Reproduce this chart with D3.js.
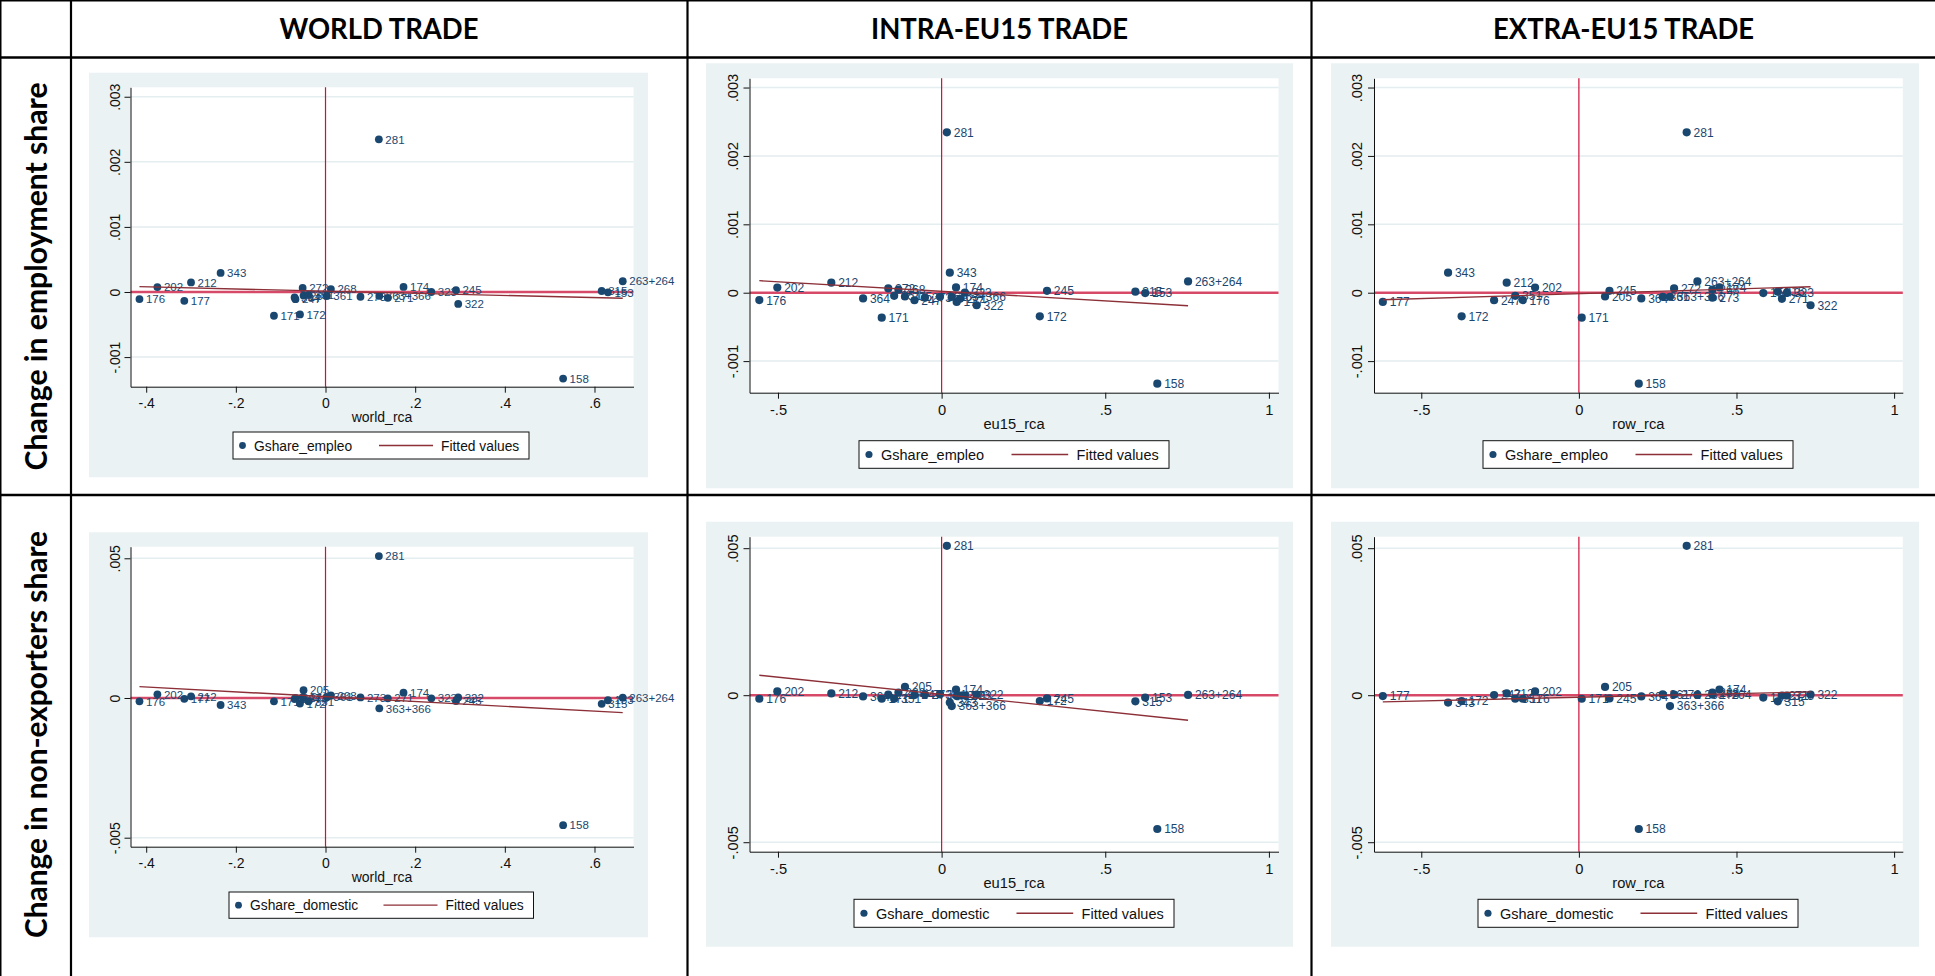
<!DOCTYPE html>
<html>
<head>
<meta charset="utf-8">
<script src="https://cdn.jsdelivr.net/npm/d3@7"></script>
<style>
    body { margin: 0; background: #fff; }
    svg { display: block; }
</style>
</head>
<body>
<svg id="chart" width="1935" height="976"></svg>
<script>
// Industry codes (NACE) and the values
const industries = ['153', '158', '171', '172', '174', '176', '177', '202', '205', '212', '245', '247', '263+264',
    '268', '271', '272', '273', '281', '315', '322', '323', '343', '363+366', '364', '351', '361'];
const worldRca = [0.630, 0.530, -0.115, -0.057, 0.174, -0.415, -0.315, -0.375, -0.049, -0.300, 0.291, -0.067, 0.663,
    0.012, 0.139, -0.051, 0.078, 0.119, 0.616, 0.296, 0.236, -0.234, 0.120, -0.069, -0.038, 0.003];
const eu15Rca = [0.622, 0.659, -0.183, 0.300, 0.044, -0.557, 0.046, -0.502, -0.112, -0.337, 0.322, -0.083, 0.753,
    -0.132, 0.056, -0.163, -0.051, 0.016, 0.592, 0.107, 0.071, 0.025, 0.031, -0.240, -0.145, -0.005];
const rowRca = [0.585, 0.190, 0.009, -0.372, 0.446, -0.178, -0.622, -0.139, 0.083, -0.229, 0.097, -0.269, 0.376,
    0.4235, 0.644, 0.302, 0.4235, 0.342, 0.631, 0.735, 0.660, -0.415, 0.289, 0.198, -0.202, 0.266];
const gshareEmpleo = [-0.000005, -0.00133, -0.000365, -0.000345, 0.000078, -0.000108, -0.000135, 0.000075, -0.000055,
    0.000147, 0.000027, -0.00011, 0.000165, 0.000045, -0.00009, 0.000062, -0.000073, 0.002345, 0.000015, -0.000183,
    0.0, 0.000293, -0.00006, -0.000083, -0.000045, -0.00006];
const gshareDomestic = [-0.00008, -0.00455, -0.00012, -0.0002, 0.00019, -0.00012, -0.00003, 0.00013, 0.00028,
    0.00006, -0.00011, 0.000005, 0.00001, 0.00009, -0.00001, 0.00002, 0.00002, 0.00508, -0.00021, 0.00002,
    -0.00001, -0.00025, -0.00037, -0.00004, -0.00012, 0.00003];

// Fitted values at the lowest and highest x of each panel
const fittedWorldEmpleo = [0.000082, -0.000097];
const fittedEu15Empleo = [0.000176, -0.00019];
const fittedRowEmpleo = [-0.000102, 0.000088];
const fittedWorldDomestic = [0.000406, -0.000525];
const fittedEu15Domestic = [0.00068, -0.00085];
const fittedRowDomestic = [-0.000227, 0.000113];

// Tick values
const worldTicks = [-0.4, -0.2, 0, 0.2, 0.4, 0.6];
const eu15Ticks = [-0.5, 0, 0.5, 1];
const rowTicks = [-0.5, 0, 0.5, 1];
const empleoTicks = [-0.001, 0, 0.001, 0.002, 0.003];
const domesticTicks = [-0.005, 0, 0.005];

const columnTitles = ['WORLD TRADE', 'INTRA-EU15 TRADE', 'EXTRA-EU15 TRADE'];
const rowTitles = ['Change in employment share', 'Change in non-exporters share'];

const colors = {
    graphBg: '#EAF2F3',
    grid: '#E4EDEF',
    navy: '#1A476F',
    maroon: '#8C2F37',
    refLine: '#D0103A',
    axis: '#111'
};
const numFont = '"Liberation Sans", Arial, sans-serif';
const headFont = 'Lato, "Open Sans", sans-serif';

// Layout of each Stata graph inside the table
const panels = [
    {x: worldRca, y: gshareEmpleo, fit: fittedWorldEmpleo, xTicks: worldTicks, yTicks: empleoTicks,
        xTitle: 'world_rca', yName: 'Gshare_empleo', s: 1,
        bg: [89, 72.7, 648, 477.3], plot: [130.5, 87.3, 633.5, 386.7],
        xDomain: [-0.435, 0.687], yDomain: [-0.001455, 0.003145], legend: [233, 432, 529, 459]},
    {x: eu15Rca, y: gshareEmpleo, fit: fittedEu15Empleo, xTicks: eu15Ticks, yTicks: empleoTicks,
        xTitle: 'eu15_rca', yName: 'Gshare_empleo', s: 1.05,
        bg: [706, 63.3, 1293, 488.3], plot: [749.5, 78.3, 1278.5, 392.7],
        xDomain: [-0.587, 1.0293], yDomain: [-0.001462, 0.003135], legend: [859, 440.7, 1169, 468.3]},
    {x: rowRca, y: gshareEmpleo, fit: fittedRowEmpleo, xTicks: rowTicks, yTicks: empleoTicks,
        xTitle: 'row_rca', yName: 'Gshare_empleo', s: 1.05,
        bg: [1331, 63.3, 1919, 488.3], plot: [1374, 78.3, 1902.8, 392.7],
        xDomain: [-0.65, 1.0276], yDomain: [-0.001462, 0.003135], legend: [1483, 440.7, 1793, 468.3]},
    {x: worldRca, y: gshareDomestic, fit: fittedWorldDomestic, xTicks: worldTicks, yTicks: domesticTicks,
        xTitle: 'world_rca', yName: 'Gshare_domestic', s: 1,
        bg: [89, 532.3, 648, 937.3], plot: [130.5, 546.7, 633.5, 846.7],
        xDomain: [-0.435, 0.687], yDomain: [-0.005322, 0.005415], legend: [229, 892, 533.5, 918.3]},
    {x: eu15Rca, y: gshareDomestic, fit: fittedEu15Domestic, xTicks: eu15Ticks, yTicks: domesticTicks,
        xTitle: 'eu15_rca', yName: 'Gshare_domestic', s: 1.05,
        bg: [706, 521.7, 1293, 946.7], plot: [749.5, 536.7, 1278.5, 851.7],
        xDomain: [-0.587, 1.0293], yDomain: [-0.005323, 0.005391], legend: [854, 899.3, 1174, 927.3]},
    {x: rowRca, y: gshareDomestic, fit: fittedRowDomestic, xTicks: rowTicks, yTicks: domesticTicks,
        xTitle: 'row_rca', yName: 'Gshare_domestic', s: 1.05,
        bg: [1331, 521.7, 1919, 946.7], plot: [1374, 536.7, 1902.8, 851.7],
        xDomain: [-0.65, 1.0276], yDomain: [-0.005323, 0.005391], legend: [1478, 899.3, 1798, 927.3]}
];

// Stata style numbers: .003, -.4, 0, 1
function stataFormat(v) {
    if (Math.abs(v) < 1e-12) return '0';
    return String(+v.toFixed(6)).replace(/^(-?)0\./, '$1.');
}

const svg = d3.select('#chart');

function drawPanel(p) {
    const g = svg.append('g');
    const s = p.s;
    const [px0, py0, px1, py1] = p.plot;

    g.append('rect')
        .attr('x', p.bg[0]).attr('y', p.bg[1])
        .attr('width', p.bg[2] - p.bg[0]).attr('height', p.bg[3] - p.bg[1])
        .attr('fill', colors.graphBg);
    g.append('rect')
        .attr('x', px0).attr('y', py0)
        .attr('width', px1 - px0).attr('height', py1 - py0)
        .attr('fill', '#fff');

    const x = d3.scaleLinear().domain(p.xDomain).range([px0, px1]);
    const y = d3.scaleLinear().domain(p.yDomain).range([py1, py0]);

    // Gridlines
    g.append('g').selectAll('line')
        .data(p.yTicks)
        .enter()
        .append('line')
        .attr('x1', px0).attr('x2', px1)
        .attr('y1', d => y(d)).attr('y2', d => y(d))
        .attr('stroke', colors.grid)
        .attr('stroke-width', 1.5);

    // Reference lines at zero
    g.append('line')
        .attr('x1', px0).attr('x2', px1)
        .attr('y1', y(0)).attr('y2', y(0))
        .attr('stroke', colors.refLine)
        .attr('stroke-opacity', 0.75)
        .attr('stroke-width', 2.4);
    g.append('line')
        .attr('x1', x(0)).attr('x2', x(0))
        .attr('y1', py0).attr('y2', py1)
        .attr('stroke', colors.refLine)
        .attr('stroke-width', 1.2);

    const pts = industries.map((code, i) => ({code, x: p.x[i], y: p.y[i]}));

    g.append('g').selectAll('circle')
        .data(pts)
        .enter()
        .append('circle')
        .attr('cx', d => x(d.x))
        .attr('cy', d => y(d.y))
        .attr('r', 3.9 * s)
        .attr('fill', colors.navy);

    g.append('g').selectAll('text')
        .data(pts)
        .enter()
        .append('text')
        .attr('x', d => x(d.x) + 6.5 * s)
        .attr('y', d => y(d.y) + 4.2 * s)
        .attr('fill', colors.navy)
        .style('font-family', numFont)
        .style('font-size', (11.5 * s) + 'px')
        .text(d => d.code);

    // Fitted line over the x range of the data
    const xExt = d3.extent(p.x);
    g.append('line')
        .attr('x1', x(xExt[0])).attr('y1', y(p.fit[0]))
        .attr('x2', x(xExt[1])).attr('y2', y(p.fit[1]))
        .attr('stroke', colors.maroon)
        .attr('stroke-width', 1.4);

    // Axes
    const yAxis = g.append('g')
        .attr('transform', `translate(${px0},0)`)
        .call(d3.axisLeft(y).tickValues(p.yTicks).tickFormat(stataFormat).tickSize(6).tickSizeOuter(0));
    yAxis.selectAll('text')
        .attr('x', 0).attr('y', -11 * s).attr('dy', 0)
        .attr('transform', 'rotate(-90)')
        .attr('text-anchor', 'middle');

    const xAxis = g.append('g')
        .attr('transform', `translate(0,${py1})`)
        .call(d3.axisBottom(x).tickValues(p.xTicks).tickFormat(stataFormat).tickSize(6).tickSizeOuter(0));
    xAxis.selectAll('text')
        .attr('y', 21.5 * s).attr('dy', 0);

    [yAxis, xAxis].forEach(a => {
        a.selectAll('path, line').attr('stroke', colors.axis);
        a.selectAll('text')
            .attr('fill', '#111')
            .style('font-family', numFont)
            .style('font-size', (14 * s) + 'px');
    });

    g.append('text')
        .attr('x', (px0 + px1) / 2)
        .attr('y', py1 + 35 * s)
        .attr('text-anchor', 'middle')
        .attr('fill', '#111')
        .style('font-family', numFont)
        .style('font-size', (14 * s) + 'px')
        .text(p.xTitle);

    // Legend
    const [lx0, ly0, lx1, ly1] = p.legend;
    const lyMid = (ly0 + ly1) / 2;
    g.append('rect')
        .attr('x', lx0).attr('y', ly0)
        .attr('width', lx1 - lx0).attr('height', ly1 - ly0)
        .attr('fill', '#fff')
        .attr('stroke', '#111')
        .attr('stroke-width', 1);
    g.append('circle')
        .attr('cx', lx0 + 9.5 * s).attr('cy', lyMid)
        .attr('r', 3.4 * s)
        .attr('fill', colors.navy);
    g.append('text')
        .attr('x', lx0 + 21 * s).attr('y', lyMid + 5 * s)
        .attr('fill', '#111')
        .style('font-family', numFont)
        .style('font-size', (13.8 * s) + 'px')
        .text(p.yName);
    g.append('line')
        .attr('x1', lx1 - 150 * s).attr('x2', lx1 - 96 * s)
        .attr('y1', lyMid).attr('y2', lyMid)
        .attr('stroke', colors.maroon)
        .attr('stroke-width', 1.4);
    g.append('text')
        .attr('x', lx1 - 88 * s).attr('y', lyMid + 5 * s)
        .attr('fill', '#111')
        .style('font-family', numFont)
        .style('font-size', (13.8 * s) + 'px')
        .text('Fitted values');
}

panels.forEach(drawPanel);

// Table frame
const frame = svg.append('g').attr('stroke', '#000');
frame.append('line').attr('x1', 0).attr('x2', 1935).attr('y1', 0.75).attr('y2', 0.75).attr('stroke-width', 1.5);
frame.append('line').attr('x1', 0.75).attr('x2', 0.75).attr('y1', 0).attr('y2', 976).attr('stroke-width', 1.5);
[71, 687.5, 1311.5].forEach(cx => {
    frame.append('line').attr('x1', cx).attr('x2', cx).attr('y1', 0).attr('y2', 976).attr('stroke-width', 2.2);
});
[57.5, 495].forEach(cy => {
    frame.append('line').attr('x1', 0).attr('x2', 1935).attr('y1', cy).attr('y2', cy).attr('stroke-width', 2.4);
});

// Column headers
const headerCenters = [379, 999.5, 1623.5];
const headerWidths = [199, 257, 261];
columnTitles.forEach((t, i) => {
    svg.append('text')
        .attr('x', headerCenters[i])
        .attr('y', 39)
        .attr('text-anchor', 'middle')
        .attr('textLength', headerWidths[i])
        .attr('lengthAdjust', 'spacingAndGlyphs')
        .style('font-family', headFont)
        .style('font-weight', 700)
        .style('font-size', '28px')
        .text(t);
});

// Row headers
const rowCenters = [276.5, 734.5];
const rowWidths = [388, 407];
rowTitles.forEach((t, i) => {
    svg.append('text')
        .attr('transform', `translate(47,${rowCenters[i]}) rotate(-90)`)
        .attr('text-anchor', 'middle')
        .attr('textLength', rowWidths[i])
        .attr('lengthAdjust', 'spacingAndGlyphs')
        .style('font-family', headFont)
        .style('font-weight', 700)
        .style('font-size', '30px')
        .text(t);
});
</script>
</body>
</html>
